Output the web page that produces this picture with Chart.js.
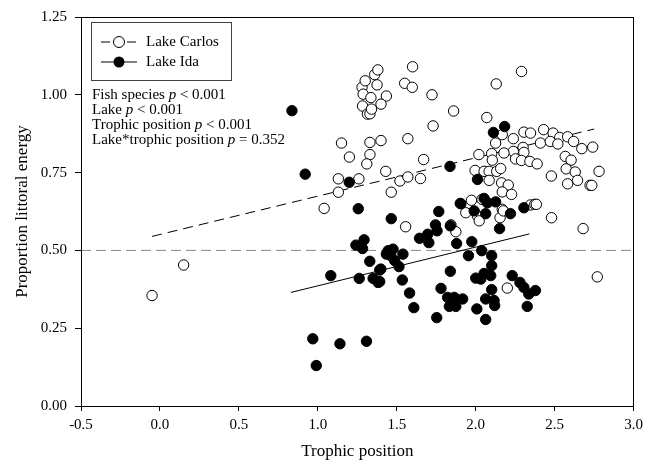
<!DOCTYPE html>
<html>
<head>
<meta charset="utf-8">
<script src="https://cdn.jsdelivr.net/npm/chart.js@4/dist/chart.umd.min.js"></script>
<style>
  html, body { margin: 0; padding: 0; background: #fff; }
  #wrap { width: 648px; height: 465px; }
</style>
</head>
<body>
<div id="wrap"><canvas id="c" width="648" height="465"></canvas></div>
<script>
// Lake Carlos: trophic position vs proportion littoral energy
const carlosX = [-0.05, 0.15,
  1.04, 1.13, 1.13, 1.26, 1.15, 1.20, 1.33, 1.31, 1.33, 1.40, 1.57, 1.43, 1.52, 1.57, 1.65, 1.67, 1.465, 1.73, 1.86, 2.07, 2.02,
  1.28, 1.375, 1.287, 1.336, 1.434, 1.283, 1.40, 1.314, 1.33, 1.34, 1.30, 1.36, 1.38,
  1.55, 1.598, 1.60, 1.723, 2.13, 2.29,
  2.305, 2.347, 2.168, 2.43, 2.49, 2.532, 2.582, 2.238, 2.126, 2.41, 2.472, 2.52, 2.62, 2.672, 2.741, 2.30, 2.305, 2.238, 2.179, 2.101,
  2.105, 2.252, 2.29, 2.343, 2.389, 2.567, 2.604, 2.573, 2.63, 2.781, 2.479, 2.645, 2.582, 2.724, 2.735,
  1.996, 2.053, 2.085, 2.133, 2.158, 2.085, 2.164, 2.206, 2.168, 2.227, 2.347, 2.374, 2.168,
  1.973, 2.04, 1.937, 2.011, 2.022, 2.154, 2.175, 2.384,
  1.556, 1.843, 1.874, 2.20, 2.48, 2.68, 2.77];
const carlosY = [0.355, 0.453,
  0.635, 0.687, 0.730, 0.730, 0.845, 0.800, 0.808, 0.778, 0.847, 0.853, 0.859, 0.754, 0.723, 0.736, 0.731, 0.792, 0.687, 0.900, 0.948, 0.927, 0.808,
  1.024, 1.032, 1.002, 0.991, 0.996, 0.964, 0.970, 0.938, 0.939, 0.954, 1.045, 1.065, 1.080,
  1.037, 1.024, 1.090, 1.000, 1.035, 1.075,
  0.880, 0.877, 0.872, 0.888, 0.877, 0.863, 0.865, 0.859, 0.845, 0.845, 0.850, 0.842, 0.850, 0.827, 0.832, 0.831, 0.815, 0.818, 0.813, 0.811,
  0.790, 0.794, 0.789, 0.786, 0.778, 0.802, 0.790, 0.762, 0.752, 0.754, 0.739, 0.725, 0.714, 0.709, 0.709,
  0.757, 0.754, 0.754, 0.754, 0.763, 0.725, 0.717, 0.710, 0.688, 0.680, 0.646, 0.648, 0.632,
  0.661, 0.664, 0.621, 0.611, 0.595, 0.605, 0.627, 0.648,
  0.576, 0.582, 0.560, 0.379, 0.605, 0.570, 0.415];

// Lake Ida
const idaX = [0.836, 0.92, 1.199, 1.837, 2.011, 2.183, 2.112,
  1.256, 1.766, 1.902, 2.053, 2.126, 2.074, 2.305,
  1.465, 1.293, 1.241, 1.283, 1.445, 1.476, 1.462, 1.487, 1.329, 1.392, 1.082, 1.262, 1.35, 1.382, 0.968, 1.14, 1.308, 0.99,
  1.745, 1.755, 1.696, 1.644, 1.703, 1.839, 1.879, 1.975, 2.038, 1.954, 1.434, 1.539, 1.514, 1.399, 1.392, 1.535, 1.581, 1.608,
  1.839, 1.78, 1.753, 1.822, 1.864, 1.917, 1.833, 1.874, 2.101, 2.101, 2.095, 2.053, 2.00, 2.032, 2.101, 2.063, 2.116, 2.12,
  2.007, 2.063, 2.231, 2.28, 2.305, 2.336, 2.378, 2.326,
  1.906, 1.99, 2.063, 2.22, 2.151];
const idaY = [0.949, 0.745, 0.719, 0.770, 0.728, 0.898, 0.879,
  0.634, 0.625, 0.651, 0.667, 0.656, 0.653, 0.637,
  0.602, 0.534, 0.517, 0.506, 0.499, 0.504, 0.483, 0.467, 0.465, 0.437, 0.419, 0.410, 0.410, 0.397, 0.216, 0.200, 0.208, 0.130,
  0.582, 0.563, 0.552, 0.539, 0.525, 0.579, 0.522, 0.528, 0.499, 0.483, 0.488, 0.488, 0.448, 0.440, 0.400, 0.405, 0.363, 0.316,
  0.433, 0.378, 0.284, 0.349, 0.349, 0.344, 0.320, 0.320, 0.483, 0.451, 0.419, 0.426, 0.411, 0.408, 0.374, 0.344, 0.339, 0.323,
  0.312, 0.278, 0.419, 0.397, 0.381, 0.360, 0.371, 0.320,
  0.650, 0.627, 0.618, 0.618, 0.570];

// Regression lines (end points) and the 0.5 reference
const carlosFitX = [-0.05, 2.75];
const carlosFitY = [0.545, 0.890];
const idaFitX = [0.83, 2.34];
const idaFitY = [0.365, 0.553];
const refX = [-0.5, 3.0];
const refY = [0.5, 0.5];

// Axes
const xTickLabels = ['-0.5', '0.0', '0.5', '1.0', '1.5', '2.0', '2.5', '3.0'];
const yTickLabels = ['0.00', '0.25', '0.50', '0.75', '1.00', '1.25'];
const seriesNames = ['Lake Carlos', 'Lake Ida'];
const statLines = [
  [['Fish species ', false], ['p', true], [' < 0.001', false]],
  [['Lake ', false], ['p', true], [' < 0.001', false]],
  [['Trophic position ', false], ['p', true], [' < 0.001', false]],
  [['Lake*trophic position ', false], ['p', true], [' = 0.352', false]]
];

const SERIF = '"Liberation Serif", "Times New Roman", serif';
const toPts = (xs, ys) => xs.map((x, i) => ({ x: x, y: ys[i] }));

// Frame, legend box and statistics text
const overlay = {
  id: 'overlay',
  afterDatasetsDraw(chart) {
    const { ctx, chartArea: a } = chart;
    ctx.save();
    ctx.strokeStyle = '#000';
    ctx.lineWidth = 1;
    ctx.strokeRect(Math.round(a.left) + 0.5, Math.round(a.top) + 0.5,
                   Math.round(a.right - a.left) - 1, Math.round(a.bottom - a.top));

    // legend box
    const bx = a.left + 10, by = a.top + 5, bw = 140, bh = 58;
    ctx.strokeStyle = '#444';
    ctx.strokeRect(Math.round(bx) + 0.5, Math.round(by) + 0.5, bw, bh);

    const rows = [by + 20, by + 40];
    ctx.strokeStyle = '#000';
    ctx.lineWidth = 1;
    // dashed sample
    ctx.beginPath();
    ctx.moveTo(bx + 10, rows[0]); ctx.lineTo(bx + 19, rows[0]);
    ctx.moveTo(bx + 36, rows[0]); ctx.lineTo(bx + 45, rows[0]);
    ctx.stroke();
    // solid sample
    ctx.beginPath();
    ctx.moveTo(bx + 10, rows[1]); ctx.lineTo(bx + 46, rows[1]);
    ctx.stroke();
    // markers
    ctx.beginPath();
    ctx.arc(bx + 28, rows[0], 5.5, 0, Math.PI * 2);
    ctx.fillStyle = '#fff'; ctx.fill(); ctx.stroke();
    ctx.beginPath();
    ctx.arc(bx + 28, rows[1], 5.5, 0, Math.PI * 2);
    ctx.fillStyle = '#000'; ctx.fill();

    ctx.fillStyle = '#000';
    ctx.textBaseline = 'middle';
    ctx.textAlign = 'left';
    ctx.font = '15px ' + SERIF;
    ctx.fillText(seriesNames[0], bx + 55, rows[0]);
    ctx.fillText(seriesNames[1], bx + 55, rows[1]);

    // statistics
    let ty = a.top + 78;
    statLines.forEach(line => {
      let tx = a.left + 11;
      line.forEach(([txt, ital]) => {
        ctx.font = (ital ? 'italic ' : '') + '15px ' + SERIF;
        ctx.fillText(txt, tx, ty);
        tx += ctx.measureText(txt).width;
      });
      ty += 15;
    });
    ctx.restore();
  }
};

new Chart(document.getElementById('c'), {
  type: 'scatter',
  data: {
    datasets: [
      { label: seriesNames[1], data: toPts(idaX, idaY), order: 0,
        pointRadius: 5.2, pointBackgroundColor: '#000', pointBorderColor: '#000', pointBorderWidth: 1 },
      { label: seriesNames[0], data: toPts(carlosX, carlosY), order: 1,
        pointRadius: 5.2, pointBackgroundColor: '#fff', pointBorderColor: '#000', pointBorderWidth: 1 },
      { type: 'line', data: toPts(carlosFitX, carlosFitY), order: 2, showLine: true, pointRadius: 0,
        borderColor: '#000', borderWidth: 1, borderDash: [10, 6], fill: false },
      { type: 'line', data: toPts(idaFitX, idaFitY), order: 3, showLine: true, pointRadius: 0,
        borderColor: '#000', borderWidth: 1, fill: false },
      { type: 'line', data: toPts(refX, refY), order: 4, showLine: true, pointRadius: 0,
        borderColor: '#888', borderWidth: 1, borderDash: [10, 5], fill: false }
    ]
  },
  options: {
    responsive: false,
    animation: false,
    events: [],
    layout: { padding: { top: 15, right: 11, left: 0, bottom: 0 } },
    plugins: { legend: { display: false }, tooltip: { enabled: false } },
    scales: {
      x: {
        type: 'linear', min: -0.5, max: 3.0,
        afterBuildTicks: s => { s.ticks = xTickLabels.map(t => ({ value: parseFloat(t) })); },
        afterFit: s => { s.height = 59; },
        border: { color: '#000', width: 1 },
        grid: { drawOnChartArea: false, drawTicks: true, tickLength: 5, color: '#000' },
        ticks: { color: '#000', padding: 5, maxRotation: 0, font: { family: SERIF, size: 15 },
                 callback: (v, i) => xTickLabels[i] },
        title: { display: true, text: 'Trophic position', color: '#000',
                 font: { family: SERIF, size: 17 }, padding: { top: 0, bottom: 3 } }
      },
      y: {
        type: 'linear', min: 0, max: 1.25,
        afterBuildTicks: s => { s.ticks = yTickLabels.map(t => ({ value: parseFloat(t) })); },
        afterFit: s => { s.width = 81; },
        border: { color: '#000', width: 1 },
        grid: { drawOnChartArea: false, drawTicks: true, tickLength: 6, color: '#000' },
        ticks: { color: '#000', padding: 8, font: { family: SERIF, size: 15 },
                 callback: (v, i) => yTickLabels[i] },
        title: { display: true, text: 'Proportion littoral energy', color: '#000',
                 font: { family: SERIF, size: 17 }, padding: { top: 12, bottom: 0 } }
      }
    }
  },
  plugins: [overlay]
});
</script>
</body>
</html>
